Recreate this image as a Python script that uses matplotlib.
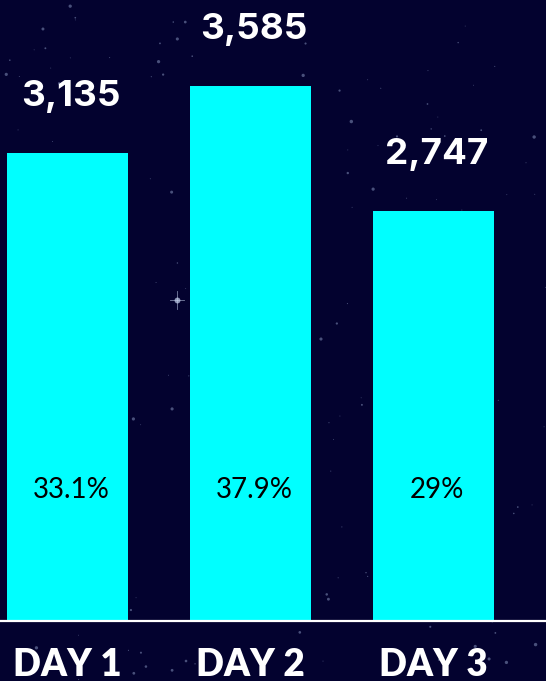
import numpy as np
import matplotlib.pyplot as plt

# data
days = ['DAY 1', 'DAY 2', 'DAY 3']
visitors = [3135, 3585, 2747]
shares = ['33.1%', '37.9%', '29%']

bg = '#03022f'
bar_col = '#00ffff'

fig = plt.figure(figsize=(5.46, 6.81), dpi=100)
fig.patch.set_facecolor(bg)

# starry background (decoration only)
sky = fig.add_axes([0, 0, 1, 1])
sky.set_facecolor(bg)
sky.set_xlim(0, 1)
sky.set_ylim(0, 1)
sky.axis('off')
rng = np.random.default_rng(11)
sx = rng.random(220)
sy = rng.random(220)
ss = rng.random(220) ** 3 * 6 + 0.4
sky.scatter(sx, sy, s=ss, c='#9fb0d8', alpha=0.45, linewidths=0)
sky.scatter([177 / 546], [1 - 300 / 681], s=18, c='#c8d4f0', alpha=0.7, linewidths=0)
sky.plot([170 / 546, 184 / 546], [1 - 300 / 681] * 2, color='#c8d4f0', lw=0.6, alpha=0.6)
sky.plot([177 / 546] * 2, [1 - 291 / 681, 1 - 309 / 681], color='#c8d4f0', lw=0.6, alpha=0.6)

ax = fig.add_axes([0, 60 / 681, 1, 621 / 681])
ax.patch.set_alpha(0)
x = np.arange(len(days))
ax.bar(x, visitors, width=0.661, color=bar_col, zorder=2)
ax.set_xlim(-67.5 / 183, 2 + (546 - 433.5) / 183)
ax.set_ylim(0, 4160)

for s in ['top', 'left', 'right']:
    ax.spines[s].set_visible(False)
ax.spines['bottom'].set_color('white')
ax.spines['bottom'].set_linewidth(1.6)
ax.set_yticks([])
ax.set_xticks([])

for i in range(len(days)):
    ax.annotate(f'{visitors[i]:,}', xy=(x[i], visitors[i]), xytext=(2.5, 34),
                textcoords='offset points', ha='center', va='baseline',
                color='white', fontsize=26.5, fontweight='bold', family='Inter')
    ax.annotate(shares[i], xy=(x[i], 0), xytext=(2.5, 94),
                textcoords='offset points', ha='center', va='center',
                color='black', fontsize=20, family='Lato', fontweight='normal')
    ax.annotate(days[i], xy=(x[i], 0), xytext=(0, -39.5),
                textcoords='offset points', ha='center', va='baseline',
                color='white', fontsize=26.5, fontweight='heavy', family='Lato',
                annotation_clip=False)

fig.savefig('out.png', dpi=100, facecolor=bg)
